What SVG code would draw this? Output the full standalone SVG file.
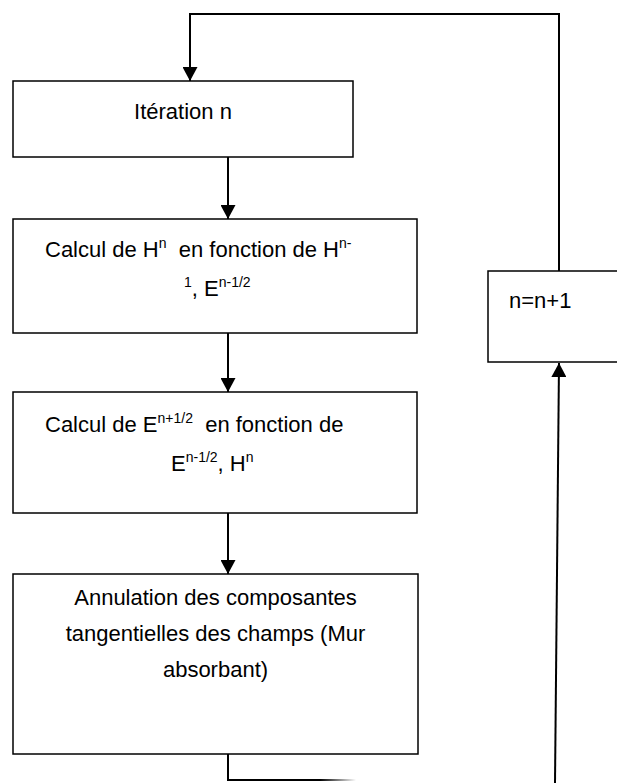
<svg xmlns="http://www.w3.org/2000/svg" width="617" height="783" viewBox="0 0 617 783">
  <style>
    .box { fill: #ffffff; stroke: #000000; stroke-width: 1.5; }
    .conn { fill: none; stroke: #000000; stroke-width: 2; }
    .t { font-family: "Liberation Sans", "Open Sans", sans-serif; font-size: 22px; fill: #000000; white-space: pre; }
    .sup { font-size: 14px; }
  </style>
  <defs>
    <marker id="arr" viewBox="0 0 14 15" markerWidth="14" markerHeight="15" refX="14" refY="7.5" orient="auto" markerUnits="userSpaceOnUse">
      <path d="M0,0 L14,7.5 L0,15 Z" fill="#000000"/>
    </marker>
    <linearGradient id="fade" gradientUnits="userSpaceOnUse" x1="320" y1="0" x2="356" y2="0">
      <stop offset="0" stop-color="#000000"/>
      <stop offset="1" stop-color="#ffffff"/>
    </linearGradient>
  </defs>

  <g id="node-iteration">
    <rect class="box" x="13" y="81" width="340" height="76"/>
    <text class="t" x="183" y="119" text-anchor="middle">Itération n</text>
  </g>

  <g id="node-calcul-h">
    <rect class="box" x="13" y="219" width="404" height="114"/>
    <text class="t" x="45" y="257" xml:space="preserve">Calcul de H<tspan class="sup" dy="-9">n</tspan><tspan dy="9">  en fonction de H</tspan><tspan class="sup" dy="-9">n-</tspan></text>
    <text class="t" x="184" y="296"><tspan class="sup" dy="-9">1</tspan><tspan dy="9">, E</tspan><tspan class="sup" dy="-9">n-1/2</tspan></text>
  </g>

  <g id="node-calcul-e">
    <rect class="box" x="13" y="392" width="404" height="121"/>
    <text class="t" x="45" y="432" xml:space="preserve">Calcul de E<tspan class="sup" dy="-9">n+1/2</tspan><tspan dy="9">  en fonction de</tspan></text>
    <text class="t" x="171" y="471">E<tspan class="sup" dy="-9">n-1/2</tspan><tspan dy="9">, H</tspan><tspan class="sup" dy="-9">n</tspan></text>
  </g>

  <g id="node-annulation">
    <rect class="box" x="13" y="574" width="405" height="180"/>
    <text class="t" x="215.5" y="605" text-anchor="middle">Annulation des composantes</text>
    <text class="t" x="215.5" y="641" text-anchor="middle">tangentielles des champs (Mur</text>
    <text class="t" x="215.5" y="677" text-anchor="middle">absorbant)</text>
  </g>

  <g id="node-increment">
    <rect class="box" x="488" y="271" width="140" height="91"/>
    <text class="t" x="509" y="308">n=n+1</text>
  </g>

  <g id="connectors">
    <line class="conn" x1="228" y1="157" x2="228" y2="219" marker-end="url(#arr)"/>
    <line class="conn" x1="228" y1="333" x2="228" y2="392" marker-end="url(#arr)"/>
    <line class="conn" x1="228" y1="513" x2="228" y2="574" marker-end="url(#arr)"/>
    <polyline class="conn" points="228,754 228,780 300,780"/>
    <line x1="299" y1="780" x2="356" y2="780" stroke="url(#fade)" stroke-width="2"/>
    <line class="conn" x1="555" y1="783" x2="559" y2="363" marker-end="url(#arr)"/>
    <polyline class="conn" points="559,271 559,14 190,14 190,81" marker-end="url(#arr)"/>
  </g>
</svg>
